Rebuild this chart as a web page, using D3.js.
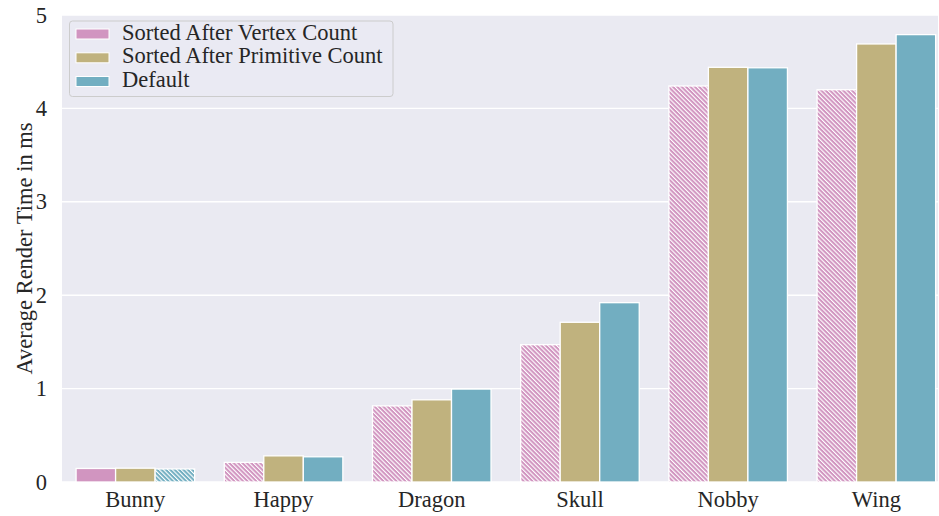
<!DOCTYPE html>
<html>
<head>
<meta charset="utf-8">
<script src="https://cdn.jsdelivr.net/npm/d3@7/dist/d3.min.js"></script>
<style>
  html, body { margin: 0; padding: 0; background: #ffffff; }
  svg { display: block; }
  text { font-family: "Liberation Serif", "Times New Roman", serif; fill: #262626; }
</style>
</head>
<body>
<svg id="chart" width="939" height="516"></svg>
<script>
// Scenes on the x axis
const categories = ["Bunny", "Happy", "Dragon", "Skull", "Nobby", "Wing"];

// Average render time per scene (ms), one array per ordering
const seriesNames = ["Sorted After Vertex Count", "Sorted After Primitive Count", "Default"];
const vertexSorted    = [0.145, 0.21, 0.815, 1.47, 4.24, 4.20];
const primitiveSorted = [0.148, 0.28, 0.88, 1.71, 4.44, 4.69];
const defaultOrder    = [0.14, 0.27, 0.995, 1.92, 4.435, 4.79];
const seriesValues = [vertexSorted, primitiveSorted, defaultOrder];

const yTicks = [0, 1, 2, 3, 4, 5];

const colors = ["#d195c0", "#c0b27e", "#72aec1"];
// bars drawn with the diagonal hatch: [series index, category index]
const hatched = [[0, 1], [0, 2], [0, 3], [0, 4], [0, 5], [2, 0]];

const svg = d3.select("#chart");
const plot = { left: 62, right: 938, top: 15, bottom: 482 };
const fontSize = 22.5;

const x = d3.scaleLinear().domain([-0.495, 5.416]).range([plot.left, plot.right]);
const y = d3.scaleLinear().domain([0, 5]).range([plot.bottom, plot.top]);

// hatch patterns: vertical stripes rotated into "\" diagonals
const defs = svg.append("defs");
colors.forEach((c, i) => {
  const p = defs.append("pattern")
    .attr("id", "hatch" + i)
    .attr("patternUnits", "userSpaceOnUse")
    .attr("width", 3.1).attr("height", 3.1)
    .attr("patternTransform", "rotate(-45)");
  p.append("rect").attr("width", 3.1).attr("height", 3.1).attr("fill", c);
  p.append("rect").attr("width", 1.1).attr("height", 3.1).attr("fill", "#ffffff");
});

// background
svg.append("rect")
  .attr("x", plot.left).attr("y", plot.top)
  .attr("width", plot.right - plot.left).attr("height", plot.bottom - plot.top)
  .attr("fill", "#eaeaf2");

// horizontal grid
svg.append("g").selectAll("line").data(yTicks).join("line")
  .attr("x1", plot.left).attr("x2", plot.right)
  .attr("y1", d => y(d)).attr("y2", d => y(d))
  .attr("stroke", "#ffffff").attr("stroke-width", 1.4);

// bars
const groupWidth = 0.8;
const barW = groupWidth / seriesValues.length;
const isHatched = (s, c) => hatched.some(h => h[0] === s && h[1] === c);

seriesValues.forEach((vals, s) => {
  svg.append("g").selectAll("rect").data(vals).join("rect")
    .attr("x", (d, i) => x(i - groupWidth / 2 + s * barW))
    .attr("width", (d, i) => x(i - groupWidth / 2 + (s + 1) * barW) - x(i - groupWidth / 2 + s * barW))
    .attr("y", d => y(d))
    .attr("height", d => y(0) - y(d))
    .attr("fill", (d, i) => isHatched(s, i) ? "url(#hatch" + s + ")" : colors[s])
    .attr("stroke", "#ffffff")
    .attr("stroke-width", 1.3);
});

// x tick labels
svg.append("g").selectAll("text").data(categories).join("text")
  .attr("x", (d, i) => x(i))
  .attr("y", 507)
  .attr("text-anchor", "middle")
  .attr("font-size", fontSize)
  .text(d => d);

// y tick labels
svg.append("g").selectAll("text").data(yTicks).join("text")
  .attr("x", 47)
  .attr("y", d => y(d) + 7.5)
  .attr("text-anchor", "end")
  .attr("font-size", fontSize)
  .text(d => d);

// y axis title
svg.append("text")
  .attr("transform", `translate(32,${(plot.top + plot.bottom) / 2}) rotate(-90)`)
  .attr("text-anchor", "middle")
  .attr("font-size", fontSize)
  .text("Average Render Time in ms");

// legend
const legend = svg.append("g");
legend.append("rect")
  .attr("x", 69.5).attr("y", 21).attr("width", 323.5).attr("height", 75.5)
  .attr("rx", 3)
  .attr("fill", "#eaeaf2").attr("fill-opacity", 0.8)
  .attr("stroke", "#cccccc").attr("stroke-width", 1);
const rowBase = [39.5, 63.3, 87];
seriesNames.forEach((name, i) => {
  legend.append("rect")
    .attr("x", 76).attr("y", rowBase[i] - 10.5)
    .attr("width", 33).attr("height", 10)
    .attr("fill", colors[i])
    .attr("stroke", "#ffffff").attr("stroke-width", 1);
  legend.append("text")
    .attr("x", 122).attr("y", rowBase[i])
    .attr("font-size", fontSize)
    .text(name);
});
</script>
</body>
</html>
